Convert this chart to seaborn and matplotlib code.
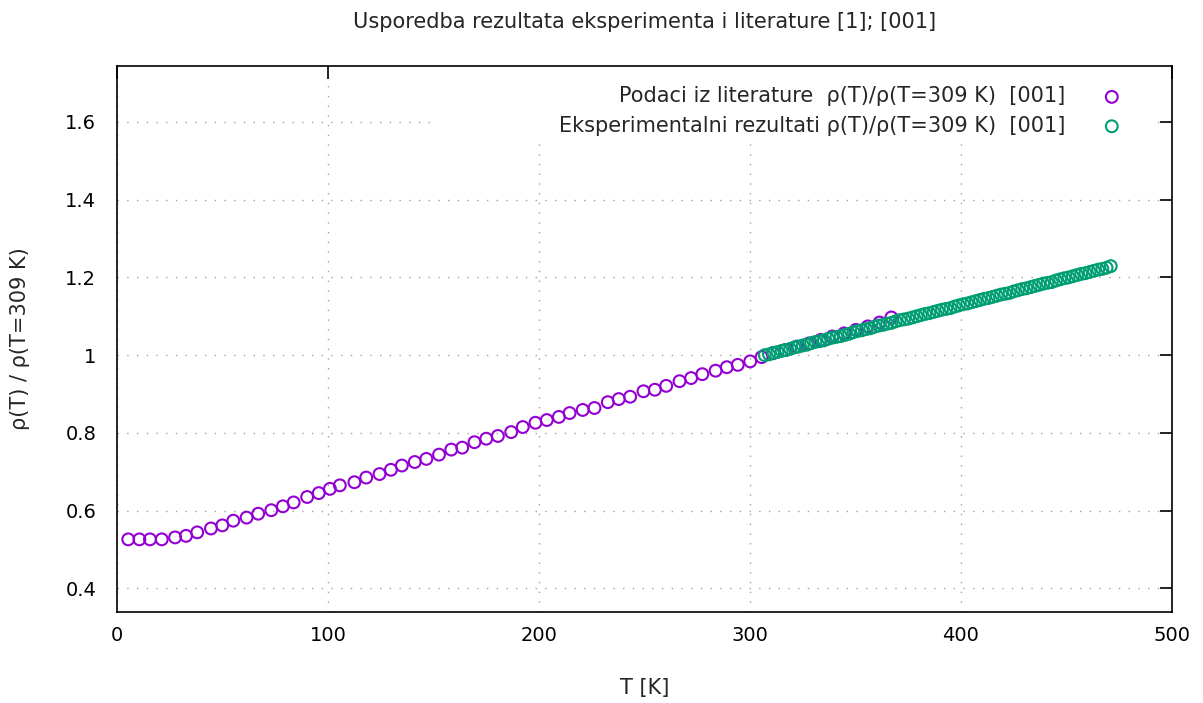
import numpy as np
import pandas as pd
import seaborn as sns
import matplotlib.pyplot as plt
from matplotlib.ticker import FuncFormatter
from matplotlib.patches import Rectangle

# literature data rho(T)/rho(309 K), [001]
lit_T = [5.3, 10.6, 15.6, 21.2, 27.5, 32.7, 38.0, 44.5, 49.9, 55.1, 61.4, 66.9, 73.1, 78.6,
         83.7, 90.1, 95.6, 100.9, 105.6, 112.5, 118.1, 124.4, 129.8, 135.0, 141.1, 146.6,
         152.6, 158.4, 163.6, 169.4, 175.0, 180.5, 186.8, 192.3, 198.3, 203.7, 209.4, 214.5,
         220.7, 226.3, 232.6, 237.8, 243.2, 249.5, 254.9, 260.3, 266.6, 272.1, 277.4, 283.7,
         289.0, 294.2, 300.1, 305.5, 311.0, 316.6, 322.2, 327.8, 333.4, 339.0, 344.6, 350.2,
         355.8, 361.4, 367.0]
lit_rho = [0.526, 0.526, 0.526, 0.526, 0.531, 0.535, 0.544, 0.554, 0.562, 0.574, 0.582, 0.592,
           0.601, 0.611, 0.621, 0.635, 0.645, 0.656, 0.665, 0.673, 0.685, 0.694, 0.705, 0.716,
           0.725, 0.733, 0.744, 0.757, 0.762, 0.776, 0.785, 0.792, 0.802, 0.815, 0.826, 0.833,
           0.841, 0.851, 0.859, 0.864, 0.879, 0.887, 0.893, 0.907, 0.911, 0.921, 0.933, 0.941,
           0.951, 0.960, 0.969, 0.975, 0.984, 0.995, 1.005, 1.013, 1.022, 1.030, 1.039, 1.048,
           1.056, 1.065, 1.074, 1.084, 1.097]

# experimental results
exp_T = [307, 309, 311, 313, 315, 317, 319, 321, 323, 325, 327, 329, 331, 333, 335, 337, 339,
         341, 343, 345, 347, 349, 351, 353, 355, 357, 359, 361, 363, 365, 367, 369, 371, 373,
         375, 377, 379, 381, 383, 385, 387, 389, 391, 393, 395, 397, 399, 401, 403, 405, 407,
         409, 411, 413, 415, 417, 419, 421, 423, 425, 427, 429, 431, 433, 435, 437, 439, 441,
         443, 445, 447, 449, 451, 453, 455, 457, 459, 461, 463, 465, 467, 469, 471]
exp_rho = [1.000, 1.002, 1.006, 1.008, 1.011, 1.013, 1.016, 1.020, 1.022, 1.025, 1.027, 1.031,
           1.034, 1.036, 1.038, 1.042, 1.045, 1.047, 1.049, 1.052, 1.055, 1.059, 1.062, 1.064,
           1.067, 1.069, 1.073, 1.076, 1.078, 1.081, 1.083, 1.087, 1.090, 1.092, 1.094, 1.097,
           1.100, 1.103, 1.106, 1.108, 1.111, 1.114, 1.117, 1.119, 1.121, 1.125, 1.128, 1.131,
           1.133, 1.136, 1.139, 1.142, 1.145, 1.147, 1.150, 1.153, 1.156, 1.158, 1.160, 1.164,
           1.167, 1.170, 1.172, 1.175, 1.178, 1.181, 1.184, 1.186, 1.188, 1.192, 1.195, 1.198,
           1.200, 1.203, 1.206, 1.209, 1.211, 1.214, 1.217, 1.220, 1.222, 1.225, 1.229]

x_ticks = [0, 100, 200, 300, 400, 500]
y_ticks = [0.4, 0.6, 0.8, 1.0, 1.2, 1.4, 1.6]

lit = pd.DataFrame({"T": lit_T, "rho": lit_rho})
exp = pd.DataFrame({"T": exp_T, "rho": exp_rho})

sns.set_style("white")
plt.rcParams['font.family'] = ['DejaVu Sans']

fig = plt.figure(figsize=(12.03, 7.03), dpi=100)
ax = fig.add_axes([0.0973, 0.1294, 0.8769, 0.7767])
ax.set_axisbelow(True)

sns.scatterplot(data=lit, x="T", y="rho", ax=ax, marker="o", s=72, facecolor="none",
                edgecolor="#9400d3", linewidth=1.5,
                label="Podaci iz literature  ρ(T)/ρ(T=309 K)  [001]", zorder=3)
sns.scatterplot(data=exp, x="T", y="rho", ax=ax, marker="o", s=72, facecolor="none",
                edgecolor="#009e73", linewidth=1.5,
                label="Eksperimentalni rezultati ρ(T)/ρ(T=309 K)  [001]", zorder=4)

ax.set_xlim(0, 500)
ax.set_ylim(0.339, 1.744)
ax.set_xticks(x_ticks)
ax.set_yticks(y_ticks)
ax.yaxis.set_major_formatter(FuncFormatter(lambda v, p: "%g" % v))
ax.grid(True, color="#a0a0a0", linestyle=(0, (1, 6)), linewidth=1.0)
ax.tick_params(direction="in", length=9, width=1.2, top=True, right=True,
               labelsize=14, colors="black")
ax.tick_params(axis="y", pad=15)
ax.tick_params(axis="x", pad=10)
for s in ax.spines.values():
    s.set_color("black")
    s.set_linewidth(1.2)

# opaque key area (covers the grid like gnuplot's key box)
ax.add_patch(Rectangle((0.297, 0.864), 0.69, 0.136, transform=ax.transAxes,
                       facecolor="white", edgecolor="none", zorder=2))

ax.set_xlabel("T [K]", fontsize=15)
ax.xaxis.set_label_coords(0.5, -0.139)
ax.xaxis.label.set_va("center")
ax.set_ylabel("ρ(T) / ρ(T=309 K)", fontsize=15)
ax.yaxis.set_label_coords(-0.092, 0.5)
ax.yaxis.label.set_va("center")
fig.text(0.536, 1 - 22 / 703, "Usporedba rezultata eksperimenta i literature [1]; [001]",
         fontsize=15, ha="center", va="center")

leg = ax.legend(loc="upper right", bbox_to_anchor=(0.9706, 0.978), markerfirst=False,
                frameon=False, fontsize=15, handlelength=2.0, handletextpad=1.25,
                borderaxespad=0.0, borderpad=0.4, labelspacing=0.45)
leg.set_zorder(5)

fig.savefig("out.png", dpi=100)
